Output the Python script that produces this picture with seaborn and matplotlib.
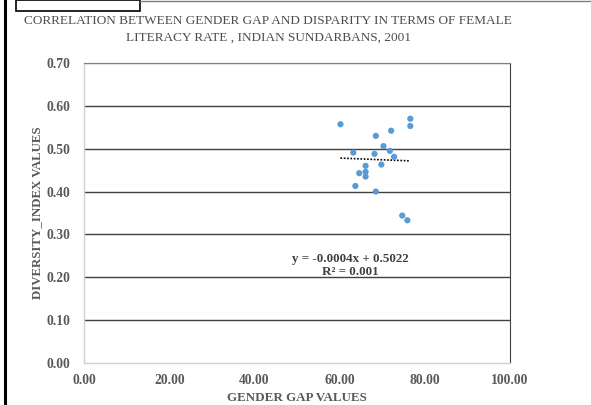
import matplotlib.pyplot as plt
import matplotlib.patches as mpatches
import matplotlib.lines as mlines
import seaborn as sns
import numpy as np
import pandas as pd

# gender gap vs diversity index
gender_gap = [60.2, 76.6, 76.6, 68.5, 72.1, 70.3, 63.2, 68.2, 71.8, 72.8,
              69.8, 66.1, 64.6, 66.1, 66.1, 63.7, 68.5, 74.7, 75.9]
diversity = [0.557, 0.570, 0.553, 0.530, 0.542, 0.506, 0.491, 0.488, 0.495, 0.481,
             0.463, 0.460, 0.443, 0.446, 0.435, 0.413, 0.400, 0.344, 0.333]
slope = -0.0004
intercept = 0.5022
eq_text = "y = -0.0004x + 0.5022\nR² = 0.001"

df = pd.DataFrame({"gap": gender_gap, "div": diversity})

sns.set_style("white")
plt.rcParams['font.family'] = ['Liberation Serif', 'DejaVu Serif']

fig = plt.figure(figsize=(5.91, 4.05), dpi=100)
ax = fig.add_axes([84 / 591, 1 - 363 / 405, 426 / 591, 300 / 405])

grid_col = "#404040"
ax.set_xlim(0, 100)
ax.set_ylim(0, 0.70)
ax.set_yticks(np.arange(0, 0.71, 0.1))
ax.set_xticks(np.arange(0, 101, 20))
for yv in np.arange(0.1, 0.71, 0.1):
    ax.axhline(yv, color=grid_col if yv < 0.65 else "#7f7f7f", lw=1.0, zorder=0)

sns.scatterplot(data=df, x="gap", y="div", ax=ax, color="#5B9BD5",
                s=20, edgecolor="none", zorder=3)

# linear trendline over the data range
tx = np.array([min(gender_gap), max(gender_gap)])
sns.lineplot(x=tx, y=slope * tx + intercept, ax=ax, color="black",
             lw=1.2, linestyle=(0, (1, 1)), zorder=2)

ax.text(62.4, 0.228, eq_text, ha="center", va="center", fontsize=9.4,
        fontweight="bold", color="#404040", linespacing=1.15)

for s in ["left", "bottom"]:
    ax.spines[s].set_color("#d0d0d0")
    ax.spines[s].set_linewidth(1)
ax.spines["right"].set_color(grid_col)
ax.spines["top"].set_color("#7f7f7f")

ax.set_xticklabels([f"{v:.2f}" for v in np.arange(0, 101, 20)])
ax.set_yticklabels([f"{v:.2f}" for v in np.arange(0, 0.71, 0.1)])
ax.tick_params(axis="both", length=0, labelsize=9.8, labelcolor="#595959")
ax.tick_params(axis="x", pad=8)
ax.tick_params(axis="y", pad=10)
for lbl in ax.get_xticklabels() + ax.get_yticklabels():
    lbl.set_fontweight("bold")

ax.set_xlabel("GENDER GAP VALUES", fontsize=9.4, fontweight="bold",
              color="#595959", labelpad=3.5)
ax.set_ylabel("DIVERSITY_INDEX VALUES", fontsize=9.3, fontweight="bold",
              color="#595959", labelpad=2)

fig.text(268 / 591, 1 - 29.5 / 405,
         "CORRELATION BETWEEN GENDER GAP AND DISPARITY IN TERMS OF FEMALE\nLITERACY RATE , INDIAN SUNDARBANS, 2001",
         ha="center", va="center", fontsize=9.5, color="#4d4d4d", linespacing=1.5)

# frame pieces around the chart area
fig.add_artist(mlines.Line2D([5 / 591, 5 / 591], [0, 1], color="black", lw=2.2))
fig.add_artist(mlines.Line2D([140 / 591, 1], [1 - 1 / 405, 1 - 1 / 405], color="#7f7f7f", lw=1))
fig.add_artist(mpatches.Rectangle((16 / 591, 1 - 11 / 405), 124 / 591, 11 / 405,
                                  fill=False, edgecolor="black", lw=1.2))

fig.savefig("out.png", dpi=100)
plt.close()
